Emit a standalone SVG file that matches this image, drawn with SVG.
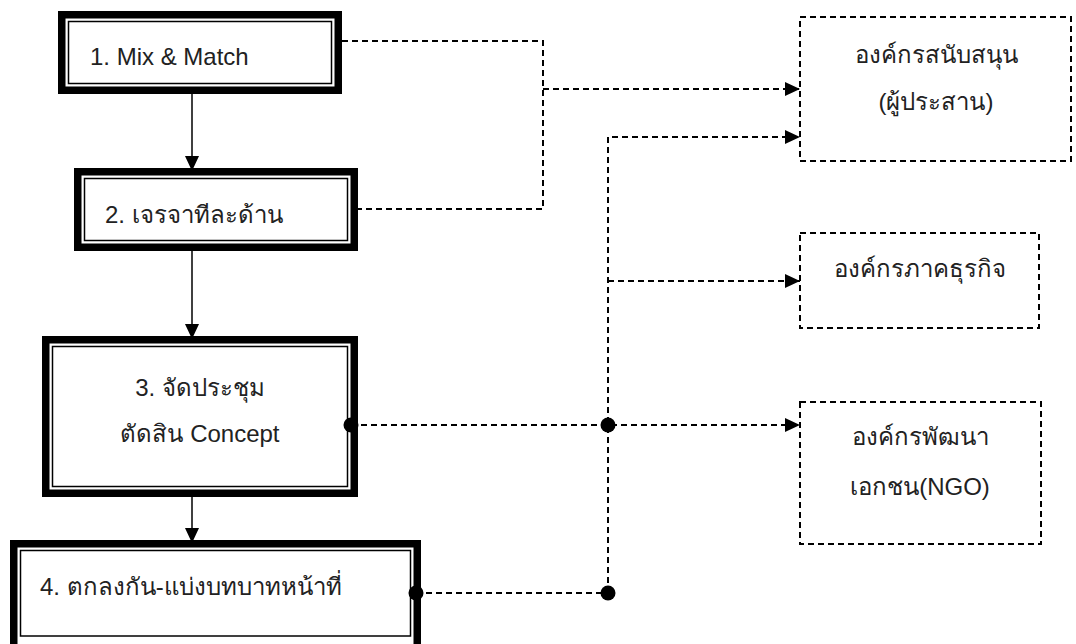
<svg xmlns="http://www.w3.org/2000/svg" width="1076" height="644" viewBox="0 0 1076 644">
  <style>
    .outer { fill: #fff; stroke: #000; stroke-width: 7.5; }
    .inner { fill: none; stroke: #000; stroke-width: 1.5; }
    .dbox { fill: #fff; stroke: #000; stroke-width: 2; stroke-dasharray: 6 4; }
    .solid { fill: none; stroke: #000; stroke-width: 1.5; }
    .dash { fill: none; stroke: #000; stroke-width: 2; stroke-dasharray: 6 4; }
    .dot { fill: #000; }
    text { font-family: "Liberation Sans", "Noto Sans", sans-serif; font-size: 24px; fill: #222; }
    .c { text-anchor: middle; }
  </style>
  <defs>
    <marker id="arrow" viewBox="0 0 15 14" refX="15" refY="7" markerWidth="15" markerHeight="14" markerUnits="userSpaceOnUse" orient="auto">
      <path d="M0,0 L15,7 L0,14 z" fill="#000"/>
    </marker>
  </defs>

  <!-- process steps (double border boxes) -->
  <g id="step1">
    <rect class="outer" x="61.75" y="14.75" width="276.5" height="75.5"/>
    <rect class="inner" x="68.5" y="21.5" width="263" height="62"/>
    <text x="90" y="65">1. Mix &amp; Match</text>
  </g>
  <g id="step2">
    <rect class="outer" x="77.75" y="171.75" width="276.5" height="75.5"/>
    <rect class="inner" x="84.5" y="178.5" width="263" height="62"/>
    <text x="105" y="223">2. เจรจาทีละด้าน</text>
  </g>
  <g id="step3">
    <rect class="outer" x="45.75" y="339.75" width="308.5" height="153.5"/>
    <rect class="inner" x="52.5" y="346.5" width="295" height="140"/>
    <text class="c" x="200" y="396">3. จัดประชุม</text>
    <text class="c" x="200" y="442">ตัดสิน Concept</text>
  </g>
  <g id="step4">
    <rect class="outer" x="13.75" y="543.75" width="403.5" height="104"/>
    <rect class="inner" x="20.5" y="550.5" width="390" height="85.5"/>
    <text x="40" y="595">4. ตกลงกัน-แบ่งบทบาทหน้าที่</text>
  </g>

  <!-- partner organisations (dashed boxes) -->
  <g id="org-support">
    <rect class="dbox" x="800" y="17" width="271" height="144"/>
    <text class="c" x="936" y="63">องค์กรสนับสนุน</text>
    <text class="c" x="936" y="110">(ผู้ประสาน)</text>
  </g>
  <g id="org-business">
    <rect class="dbox" x="800" y="233" width="239" height="95"/>
    <text class="c" x="920" y="277">องค์กรภาคธุรกิจ</text>
  </g>
  <g id="org-ngo">
    <rect class="dbox" x="800" y="402" width="241" height="142"/>
    <text class="c" x="920" y="445">องค์กรพัฒนา</text>
    <text class="c" x="920" y="495">เอกชน(NGO)</text>
  </g>

  <!-- connectors -->
  <g id="connectors">
    <path class="solid" d="M192,94 V171" marker-end="url(#arrow)"/>
    <path class="solid" d="M192,251 V339" marker-end="url(#arrow)"/>
    <path class="solid" d="M192,497 V543" marker-end="url(#arrow)"/>

    <path class="dash" d="M342,41 H543 V209 H358"/>
    <path class="dash" d="M543,89 H800" marker-end="url(#arrow)"/>
    <path class="dash" d="M608,593 V137 H800" marker-end="url(#arrow)"/>
    <path class="dash" d="M608,281 H800" marker-end="url(#arrow)"/>
    <path class="dash" d="M351,425 H800" marker-end="url(#arrow)"/>
    <path class="dash" d="M416,593 H608"/>

    <circle class="dot" cx="351" cy="425" r="7.5"/>
    <circle class="dot" cx="608" cy="425" r="7.5"/>
    <circle class="dot" cx="416" cy="593" r="7.5"/>
    <circle class="dot" cx="608" cy="593" r="7.5"/>
  </g>
</svg>
